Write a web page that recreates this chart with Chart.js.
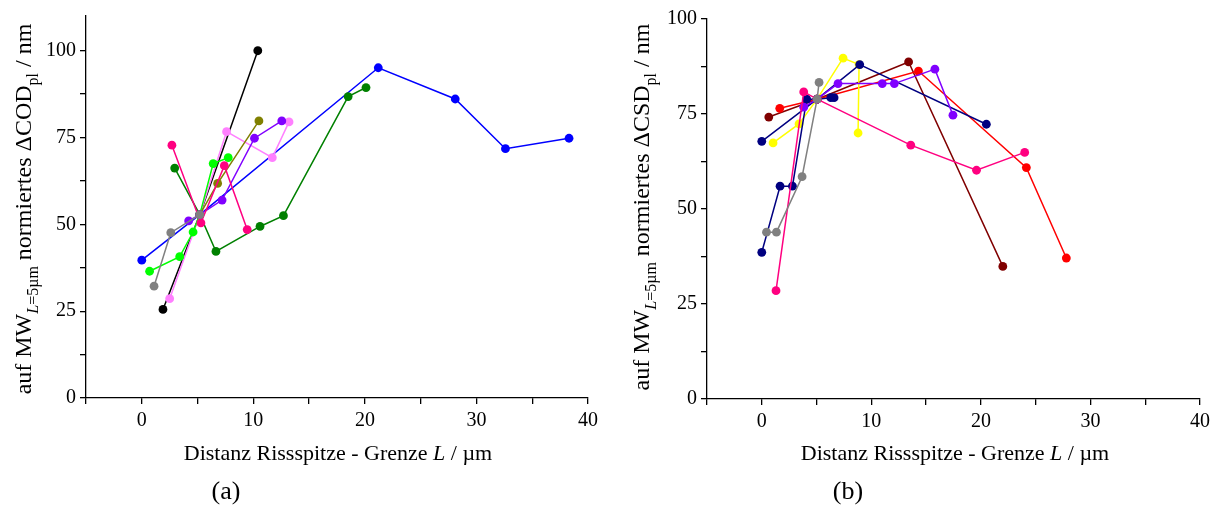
<!DOCTYPE html>
<html>
<head>
<meta charset="UTF-8">
<title>COD / CSD normiert</title>
<script src="https://cdn.jsdelivr.net/npm/chart.js@4.4.1/dist/chart.umd.min.js"></script>
<style>
  body { margin: 0; background: #fff; }
  .holder { position: absolute; top: 0; width: 608px; height: 507px; }
</style>
</head>
<body>
<div class="holder" style="left:0"><canvas id="chartA" width="608" height="507"></canvas></div>
<div class="holder" style="left:608px"><canvas id="chartB" width="608" height="507"></canvas></div>
<script>
// ---- (a) delta COD, x = L / um, y = nm
var aBlackX = [1.9, 5.2, 10.4];
var aBlackY = [25.5, 52.8, 100];
var aLightPinkX = [2.5, 5.2, 7.6, 11.7, 13.2];
var aLightPinkY = [28.6, 52.8, 76.7, 69.2, 79.5];
var aGrayX = [1.1, 2.6, 5.2];
var aGrayY = [32.2, 47.6, 52.8];
var aBlueX = [0, 5.2, 21.2, 28.1, 32.6, 38.3];
var aBlueY = [39.7, 52.8, 95.1, 86.1, 71.8, 74.8];
var aGreenX = [2.95, 5.2, 6.65, 10.6, 12.7, 18.5, 20.1];
var aGreenY = [66.2, 52.8, 42.2, 49.4, 52.5, 86.8, 89.4];
var aLimeX = [0.7, 3.4, 4.6, 5.2, 6.4, 7.75];
var aLimeY = [36.5, 40.7, 47.8, 52.8, 67.5, 69.2];
var aOliveX = [5.2, 6.8, 10.5];
var aOliveY = [52.8, 61.8, 79.8];
var aPurpleX = [4.2, 5.2, 7.2, 10.1, 12.55];
var aPurpleY = [51, 52.8, 57, 74.8, 79.8];
var aPinkX = [2.7, 5.3, 7.4, 9.45];
var aPinkY = [72.8, 50.4, 66.9, 48.5];

// ---- (b) delta CSD
var bNavy1X = [0, 1.67, 2.8, 4.1, 5.05, 6.3, 6.6];
var bNavy1Y = [38.6, 56, 56, 78.9, 78.9, 79.3, 79.3];
var bNavy2X = [0, 5.05, 8.94, 20.5];
var bNavy2Y = [67.8, 78.9, 88, 72.3];
var bRedX = [1.64, 5.05, 14.3, 24.15, 27.8];
var bRedY = [76.5, 78.9, 86.3, 60.9, 37.1];
var bMaroonX = [0.64, 5.05, 13.4, 22];
var bMaroonY = [74.2, 78.9, 88.7, 34.9];
var bPurpleX = [3.83, 5.05, 6.96, 11.0, 12.1, 15.8, 17.45];
var bPurpleY = [76.8, 78.9, 83, 83, 83, 86.8, 74.7];
var bYellowX = [1.03, 3.4, 5.05, 7.42, 8.88, 8.79];
var bYellowY = [67.4, 72.4, 78.9, 89.7, 88, 70];
var bGrayX = [0.43, 1.34, 3.68, 5.05, 5.23];
var bGrayY = [43.9, 43.9, 58.5, 78.9, 83.3];
var bPinkX = [1.3, 3.83, 5.05, 13.6, 19.6, 24.0];
var bPinkY = [28.5, 80.8, 78.9, 66.8, 60.2, 64.9];

var xTicksLabelled = [0, 10, 20, 30, 40];
var yTicksLabelled = [0, 25, 50, 75, 100];

var SERIF = "'Liberation Serif', 'DejaVu Serif', serif";

function pts(xs, ys) {
    var out = [];
    for (var i = 0; i < xs.length; i++) out.push({ x: xs[i], y: ys[i] });
    return out;
}

function serie(xs, ys, color) {
    return {
        data: pts(xs, ys),
        borderColor: color,
        backgroundColor: color,
        borderWidth: 1.5,
        pointRadius: 4.4,
        pointBorderWidth: 0,
        pointBackgroundColor: color,
        showLine: true,
        tension: 0
    };
}

// text with italic parts and subscripts, drawn on the canvas
function drawRich(ctx, segs, cx, cy, angle, size) {
    var subSize = Math.round(size * 0.68);
    var total = 0;
    segs.forEach(function (s) {
        ctx.font = (s.it ? 'italic ' : '') + (s.sub ? subSize : size) + 'px ' + SERIF;
        s.w = ctx.measureText(s.t).width;
        total += s.w;
    });
    ctx.save();
    ctx.translate(cx, cy);
    ctx.rotate(angle);
    ctx.fillStyle = '#000';
    ctx.textBaseline = 'alphabetic';
    ctx.textAlign = 'left';
    var x = -total / 2;
    segs.forEach(function (s) {
        ctx.font = (s.it ? 'italic ' : '') + (s.sub ? subSize : size) + 'px ' + SERIF;
        ctx.fillText(s.t, x, s.sub ? size * 0.28 : 0);
        x += s.w;
    });
    ctx.restore();
}

var titlePlugin = {
    id: 'richTitles',
    afterDraw: function (chart, args, opts) {
        var ctx = chart.ctx;
        drawRich(ctx, [
            { t: 'Distanz Rissspitze - Grenze ' },
            { t: 'L', it: true },
            { t: ' / µm' }
        ], opts.xTitleX, opts.xTitleY, 0, 22);
        drawRich(ctx, [
            { t: 'auf MW' },
            { t: 'L', it: true, sub: true },
            { t: '=5µm', sub: true },
            { t: ' normiertes Δ' + opts.quantity },
            { t: 'pl', sub: true },
            { t: ' / nm' }
        ], opts.yTitleX, opts.yTitleY, -Math.PI / 2, 24);
        drawRich(ctx, [{ t: opts.panel }], opts.panelX, opts.panelY, 0, 26);
    }
};

function makeOptions(yMax, yWidth, xHeight, padTop, padRight, titles) {
    return {
        responsive: false,
        animation: false,
        layout: { padding: { left: 0, top: padTop, right: padRight, bottom: 0 } },
        plugins: {
            legend: { display: false },
            tooltip: { enabled: false },
            richTitles: titles
        },
        scales: {
            x: {
                type: 'linear',
                min: -5,
                max: 40,
                border: { display: true, color: '#000', width: 1.3 },
                grid: { display: true, drawOnChartArea: false, drawTicks: true, tickLength: 6, color: '#000', lineWidth: 1.3 },
                ticks: {
                    stepSize: 5,
                    includeBounds: false,
                    maxRotation: 0,
                    autoSkip: false,
                    padding: 5,
                    color: '#000',
                    font: { family: SERIF, size: 20 },
                    callback: function (v) { return xTicksLabelled.indexOf(v) >= 0 ? String(v) : ''; }
                },
                afterFit: function (s) { s.height = xHeight; }
            },
            y: {
                type: 'linear',
                min: 0,
                max: yMax,
                border: { display: true, color: '#000', width: 1.3 },
                grid: { display: true, drawOnChartArea: false, drawTicks: true, tickLength: 6, color: '#000', lineWidth: 1.3 },
                ticks: {
                    stepSize: 12.5,
                    includeBounds: false,
                    autoSkip: false,
                    padding: 4,
                    color: '#000',
                    font: { family: SERIF, size: 20 },
                    callback: function (v) { return yTicksLabelled.indexOf(v) >= 0 ? String(v) : ''; }
                },
                afterFit: function (s) { s.width = yWidth; }
            }
        }
    };
}

new Chart(document.getElementById('chartA').getContext('2d'), {
    type: 'scatter',
    data: {
        datasets: [
            serie(aGrayX, aGrayY, '#808080'),
            serie(aPinkX, aPinkY, '#ff0080'),
            serie(aPurpleX, aPurpleY, '#8000ff'),
            serie(aOliveX, aOliveY, '#808000'),
            serie(aLimeX, aLimeY, '#00ff00'),
            serie(aLightPinkX, aLightPinkY, '#ff80ff'),
            serie(aBlackX, aBlackY, '#000000'),
            serie(aGreenX, aGreenY, '#008000'),
            serie(aBlueX, aBlueY, '#0000ff')
        ]
    },
    options: makeOptions(110, 86, 109, 10, 20, {
        quantity: 'COD',
        xTitleX: 338, xTitleY: 460,
        yTitleX: 31, yTitleY: 209,
        panel: '(a)', panelX: 226, panelY: 499
    }),
    plugins: [titlePlugin]
});

new Chart(document.getElementById('chartB').getContext('2d'), {
    type: 'scatter',
    data: {
        datasets: [
            serie(bGrayX, bGrayY, '#808080'),
            serie(bPinkX, bPinkY, '#ff0080'),
            serie(bPurpleX, bPurpleY, '#8000ff'),
            serie(bNavy1X, bNavy1Y, '#000080'),
            serie(bNavy2X, bNavy2Y, '#000080'),
            serie(bYellowX, bYellowY, '#ffff00'),
            serie(bRedX, bRedY, '#ff0000'),
            serie(bMaroonX, bMaroonY, '#800000')
        ]
    },
    options: makeOptions(100, 99, 108, 19, 16, {
        quantity: 'CSD',
        xTitleX: 347, xTitleY: 460,
        yTitleX: 41, yTitleY: 207,
        panel: '(b)', panelX: 240, panelY: 499
    }),
    plugins: [titlePlugin]
});
</script>
</body>
</html>
